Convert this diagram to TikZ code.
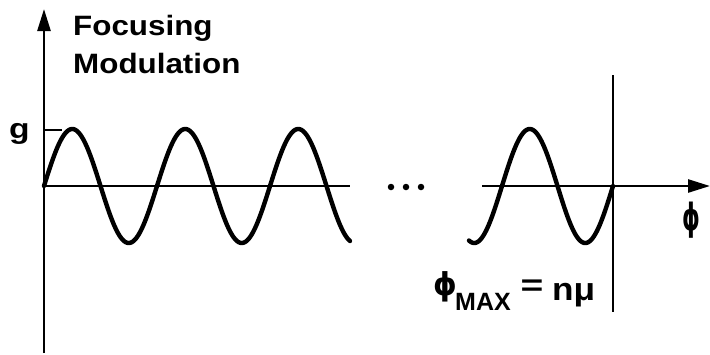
\documentclass[tikz,border=0pt]{standalone}
\usepackage{fontspec}
\setmainfont{Liberation Sans}
\newfontfamily\phifont{DejaVu Sans}
\usetikzlibrary{arrows.meta}
\begin{document}
\begin{tikzpicture}[x=1pt,y=-1pt,
  axis/.style={line width=2.6pt},
  wave/.style={line width=4.4pt,line cap=round},
  tip/.style={-{Triangle[length=22pt,width=13pt]}},
  lbl/.style={inner sep=0pt,font=\fontsize{28}{34}\selectfont\bfseries},
  dotmark/.style={circle,fill=black,inner sep=0pt,minimum size=6.5pt}]
\useasboundingbox (0,0) rectangle (710,354);
% axes
\coordinate (O) at (44,186);
\coordinate (ytop) at (44,9);
\coordinate (ybot) at (44,353);
\coordinate (xleftend) at (350,186);
\coordinate (xrstart) at (482,186);
\coordinate (xtip) at (710,186);
\coordinate (gtick) at (62,130);
\coordinate (gtickL) at (44,130);
\coordinate (vtop) at (613,75);
\coordinate (vbot) at (613,312);
\draw[axis,tip] (ybot) -- (ytop);
\draw[axis] (O) -- (xleftend);
\draw[axis,tip] (xrstart) -- (xtip);
\draw[axis] (gtickL) -- (gtick);
\draw[axis] (vtop) -- (vbot);
% waves
\draw[wave] plot[domain=0:306,samples=240,smooth] ({44+\x},{186-57*sin(\x/113*360)});
\draw[wave] plot[domain=-33:111,samples=160,smooth] ({502+\x},{186-57*sin(\x/111*360)});
% dots
\node[dotmark] (d1) at (391,187) {};
\node[dotmark] (d2) at (406,187) {};
\node[dotmark] (d3) at (421,187) {};
% labels
\node[lbl,anchor=base west,xscale=1.12] (t1) at (73,35) {Focusing};
\node[lbl,anchor=base west,xscale=1.12] (t2) at (73,73) {Modulation};
\node[lbl,anchor=base west,xscale=1.2] (g) at (9,138) {g};
\node[inner sep=0pt,anchor=center,xscale=0.75,yscale=1.25,font=\fontsize{30}{34}\selectfont\phifont\bfseries] (phi) at (691,220) {ϕ};
% phi_MAX = n mu
\node[inner sep=0pt,anchor=center,yscale=1.05,font=\fontsize{30}{34}\selectfont\phifont\bfseries] (pmphi) at (445,287) {ϕ};
\node[inner sep=0pt,anchor=base west,font=\fontsize{25}{30}\selectfont\bfseries] (pmsub) at (455,310) {MAX};
\node[inner sep=0pt,anchor=center,xscale=1.3,font=\fontsize{30}{34}\selectfont\bfseries] (pmeq) at (532,288) {=};
\node[inner sep=0pt,anchor=base west,xscale=1.1,font=\fontsize{32}{36}\selectfont\bfseries] (pmnmu) at (552,300) {nμ};
\end{tikzpicture}
\end{document}
